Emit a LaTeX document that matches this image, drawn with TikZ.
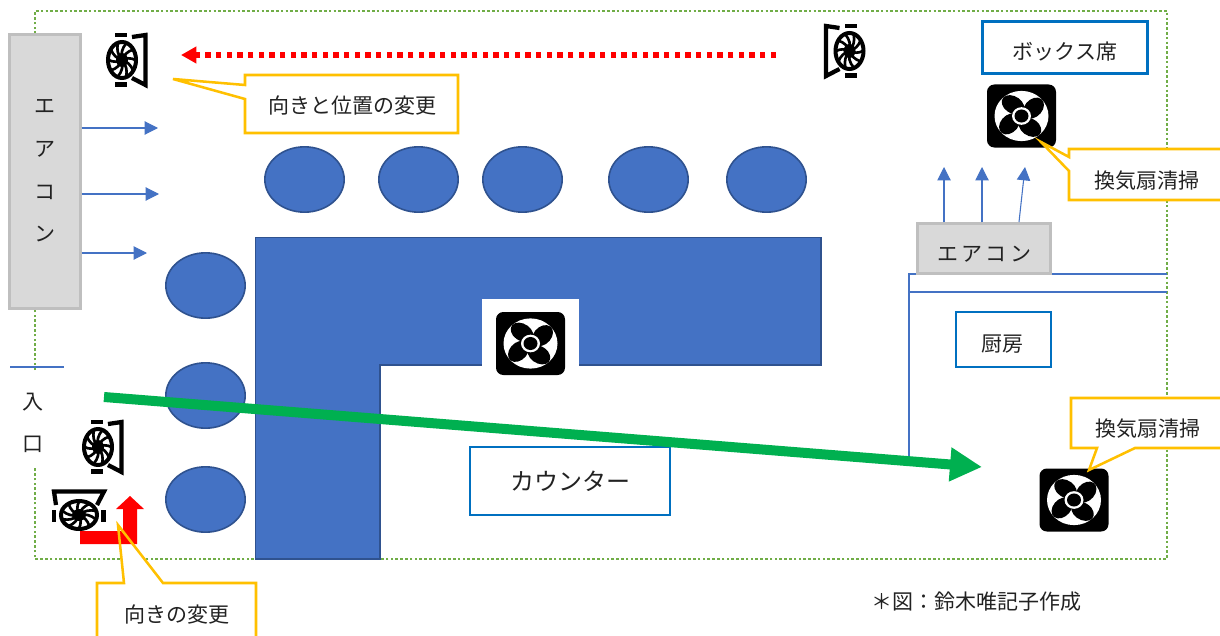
\documentclass[tikz,border=0pt]{standalone}
\usepackage{fontspec}
\usetikzlibrary{arrows.meta,shapes.geometric}
\newfontfamily\jp{Noto Sans CJK JP}
\definecolor{cblue}{HTML}{4472C4}
\definecolor{cblueline}{HTML}{2F528F}
\definecolor{cgreen}{HTML}{70AD47}
\definecolor{cgo}{HTML}{00B050}
\definecolor{cbox}{HTML}{0070C0}
\definecolor{ccall}{HTML}{FFC000}
\definecolor{cac}{HTML}{D9D9D9}
\definecolor{cacl}{HTML}{BFBFBF}
\definecolor{ctxt}{HTML}{222222}
\tikzset{
  lab/.style={font=\jp\fontsize{15.75}{32}\selectfont,text=ctxt,inner sep=0pt,align=center},
  bigl/.style={font=\jp\fontsize{18}{32}\selectfont,text=ctxt,inner sep=0pt,align=center},
  seat/.style={ellipse,draw=cblueline,line width=1.2pt,fill=cblue,minimum width=59.5pt,minimum height=49pt,inner sep=0pt},
  acbox/.style={rectangle,draw=cacl,fill=cac,line width=1.7pt,inner sep=0pt},
  labbox/.style={rectangle,draw=cbox,fill=white,line width=1.6pt,inner sep=0pt},
  call/.style={draw=ccall,line width=1.9pt,line join=miter,fill=white},
  thin blue/.style={draw=cblue,line width=0.8pt},
  airflow/.style={draw=cblue,line width=0.8pt,-{Triangle[length=10pt,width=10pt,fill=cblue]}},
  fanbox/.pic={
    \fill[black,rounded corners=5.5pt] (-34.5,-31.5) rectangle (34.5,31.5);
    \begin{scope}[yscale=.93]
      \fill[white] (0,0) circle[radius=27];
      \foreach \a in {0,90,180,270}{
        \begin{scope}[rotate=\a]
          \fill[black,shift={(12,-8.5)},rotate=52] (0,0) ellipse[x radius=12.5,y radius=9];
        \end{scope}
      }
      \fill[white] (0,0) circle[radius=9.5];
      \fill[black] (0,0) circle[radius=7];
    \end{scope}
  },
  wheelfan/.pic={
    \draw[black,line width=3pt,fill=white] (0,0) ellipse[x radius=14,y radius=18];
    \foreach \a in {0,36,...,324}{
      \draw[black,line width=2pt] (0,0) to[bend left=25] ({13.5*cos(\a)},{17.5*sin(\a)});
    }
    \fill[black] (0,0) ellipse[x radius=6,y radius=7];
    \fill[black] (-7,-27) rectangle (5,-23);
    \fill[black] (-7,22) rectangle (5,27);
    \draw[black,line width=3.2pt,line join=miter] (10,-23) -- (23.5,-25) -- (23.5,25) -- (10,18);
  }
}
\begin{document}
\begin{tikzpicture}[x=0.75pt,y=-0.75pt]
\useasboundingbox (0,0) rectangle (1220,635);
\clip (0,0) rectangle (1220,635);
\fill[white] (0,0) rectangle (1220,635);

% outer wall
\coordinate (wallA) at (35,370);
\coordinate (wallB) at (35,468);
\draw[cgreen,line width=2pt,dash pattern=on 1.9pt off 1.7pt]
  (wallA) -- (35,11) -- (1167,11) -- (1167,559) -- (35,559) -- (wallB);

% counter
\path[draw=cblueline,line width=1.2pt,fill=cblue]
  (255.5,237.5) -- (821,237.5) -- (821,365) -- (380,365) -- (380,559) -- (255.5,559) -- cycle;
\node[seat] (s1) at (304.5,179.5) {};
\node[seat] (s2) at (418.5,179.5) {};
\node[seat] (s3) at (522.5,179.5) {};
\node[seat] (s4) at (648.5,179.5) {};
\node[seat] (s5) at (766.5,179.5) {};
\node[seat] (s6) at (205.5,285.5) {};
\node[seat] (s7) at (205.5,395.5) {};
\node[seat] (s8) at (205.5,499.5) {};

% fan on the counter
\fill[white] (482,299) rectangle (579,385);
\pic (fanA) at (530.5,343.5) {fanbox};

% left air conditioner
\node[acbox,minimum width=53.25pt,minimum height=205.5pt] (acL) at (45,171.5) {};
\node[lab] (acLt) at (45,171) {エ\\ア\\コ\\ン};
\coordinate (flowA) at (158,128);
\coordinate (flowB) at (159,194);
\coordinate (flowC) at (147,253);
\draw[airflow] (acL.east |- flowA) -- (flowA);
\draw[airflow] (acL.east |- flowB) -- (flowB);
\draw[airflow] (acL.east |- flowC) -- (flowC);

% entrance
\coordinate (doorA) at (10,367);
\coordinate (doorB) at (64,367);
\draw[thin blue] (doorA) -- (doorB);
\node[lab] (entry) at (33,423) {入\\口};

% kitchen walls
\coordinate (kA) at (909,456);
\coordinate (kB) at (909,274);
\coordinate (kC) at (1167,274);
\coordinate (kD) at (909,292);
\coordinate (kE) at (1167,292);
\draw[thin blue] (kA) -- (kB) -- (kC);
\draw[thin blue] (kD) -- (kE);

% kitchen air conditioner
\node[acbox,minimum width=99.75pt,minimum height=37.5pt] (acK) at (984,248.5) {};
\node[lab] (acKt) at (984,254) {エ\hspace{2.5pt}ア\hspace{2.5pt}コ\hspace{2.5pt}ン};
\coordinate (upA) at (944,167);
\coordinate (upB) at (982,167);
\coordinate (upC) at (1025,167);
\draw[airflow] (upA |- acK.north) -- (upA);
\draw[airflow] (upB |- acK.north) -- (upB);
\draw[airflow] (1019,222) -- (upC);

% labelled boxes
\node[labbox,minimum width=123.75pt,minimum height=39pt] (boxB) at (1065,47.5) {};
\node[lab] (boxBt) at (1065,52) {ボックス席};
\node[labbox,minimum width=71.25pt,minimum height=41.25pt] (boxK) at (1003.5,339.5) {};
\node[lab] (boxKt) at (1002,344) {厨房};
\node[labbox,minimum width=150pt,minimum height=51pt] (boxC) at (570,481) {};
\node[bigl] (boxCt) at (570,481) {カウンター};

% fans
\pic (fanB) at (1021.5,116) {fanbox};
\pic (fanC) at (1074,500) {fanbox};
\pic (wheelA) at (122,60) {wheelfan};
\pic[xscale=-1] (wheelB) at (849.5,51) {wheelfan};
\pic (wheelC) at (98,447) {wheelfan};
\pic[rotate=90] (wheelD) at (79,515) {wheelfan};

% move arrow
\coordinate (moveA) at (776,55);
\coordinate (moveB) at (181,55);
\draw[red,line width=4.1pt,dash pattern=on 4.1pt off 3.9pt,-{Triangle[length=11.5pt,width=12pt]}] (moveA) -- (moveB);

% callouts
\draw[call] (245,75) -- (458,75) -- (458,133) -- (245,133) -- (245,99) -- (173,79) -- (245,85) -- cycle;
\node[lab] (noteA) at (352,106) {向きと位置の変更};

\draw[call] (1069,149) -- (1240,149) -- (1240,200) -- (1069,200) -- (1069,171) -- (1041,142) -- (1069,157) -- cycle;
\node[lab] (noteB) at (1147,181) {換気扇清掃};

\draw[call] (1071,398) -- (1240,398) -- (1240,448) -- (1135,448) -- (1089,470) -- (1097,448) -- (1071,448) -- cycle;
\node[lab] (noteC) at (1148,429) {換気扇清掃};

\fill[white] (97,583) -- (124,583) -- (118,525) -- (163,583) -- (256,583) -- (256,660) -- (97,660) -- cycle;
\fill[red] (80,531) -- (123,531) -- (123,509) -- (116,509) -- (130,496) -- (144,509) -- (137,509) -- (137,544) -- (80,544) -- cycle;
\draw[call,fill=none] (97,660) -- (97,583) -- (124,583) -- (118,525) -- (163,583) -- (256,583) -- (256,660);
\node[lab] (noteD) at (177,615) {向きの変更};

% route
\coordinate (routeA) at (104,397);
\coordinate (routeB) at (982,467);
\draw[cgo,line width=7.5pt,-{Triangle[length=24pt,width=24pt]}] (routeA) -- (routeB);

% credit
\node[lab] (credit) at (976,602) {＊図：鈴木唯記子作成};
\end{tikzpicture}
\end{document}
